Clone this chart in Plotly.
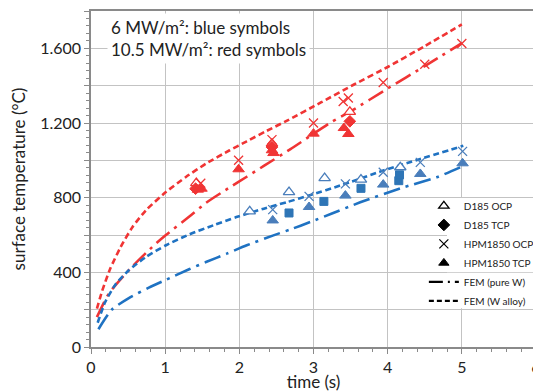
import plotly.graph_objects as go

# ---------------- data ----------------
# 10.5 MW/m2 (red symbols)
red_d185_ocp_t = [1.42, 2.44, 3.49]
red_d185_ocp_T = [878, 1089, 1260]
red_d185_tcp_t = [1.41, 2.44, 3.49]
red_d185_tcp_T = [848, 1071, 1209]
red_hpm_ocp_t = [1.48, 1.99, 2.44, 3.00, 3.40, 3.47, 3.94, 4.50, 5.00]
red_hpm_ocp_T = [877, 1000, 1111, 1200, 1315, 1334, 1417, 1515, 1626]
red_hpm_tcp_t = [1.44, 1.49, 1.99, 2.44, 2.46, 3.00, 3.41, 3.47]
red_hpm_tcp_T = [843, 848, 952, 1054, 1039, 1143, 1173, 1141]

# 6 MW/m2 (blue symbols)
blue_d185_ocp_t = [2.14, 2.67, 3.15, 3.64, 4.17]
blue_d185_ocp_T = [727, 830, 905, 897, 963]
blue_d185_tcp_t = [2.67, 3.14, 3.64, 4.15, 4.16]
blue_d185_tcp_T = [718, 780, 850, 891, 922]
blue_hpm_ocp_t = [2.45, 2.94, 3.43, 3.94, 4.44, 5.01]
blue_hpm_ocp_T = [736, 807, 874, 936, 989, 1048]
blue_hpm_tcp_t = [2.45, 2.94, 3.43, 3.94, 4.44, 5.01]
blue_hpm_tcp_T = [678, 750, 811, 870, 927, 984]

# FEM curves
fem_red_alloy_t = [0.08, 0.15, 0.26, 0.40, 0.56, 0.74, 1.01, 1.28, 1.55, 1.87, 2.10, 2.37, 2.65, 3.10, 3.54, 4.00, 4.50, 5.00]
fem_red_alloy_T = [205, 300, 420, 536, 643, 732, 830, 911, 982, 1054, 1102, 1158, 1214, 1310, 1405, 1500, 1612, 1728]
fem_red_pure_t = [0.08, 0.24, 0.53, 0.85, 1.01, 1.33, 1.55, 1.87, 2.10, 2.33, 2.69, 3.24, 3.50, 4.00, 4.50, 5.00]
fem_red_pure_T = [160, 286, 420, 545, 600, 700, 772, 855, 912, 970, 1060, 1205, 1262, 1385, 1505, 1628]
fem_blue_alloy_t = [0.09, 0.19, 0.33, 0.51, 0.74, 1.01, 1.33, 1.65, 1.96, 2.33, 2.65, 2.96, 3.36, 3.94, 4.44, 5.02]
fem_blue_alloy_T = [130, 240, 335, 411, 482, 545, 604, 652, 696, 741, 777, 814, 865, 945, 1007, 1078]
fem_blue_pure_t = [0.10, 0.28, 0.51, 0.78, 1.01, 1.33, 1.55, 1.83, 2.10, 2.46, 2.69, 2.96, 3.24, 3.63, 4.17, 4.66, 4.98]
fem_blue_pure_T = [95, 200, 262, 318, 360, 418, 455, 500, 545, 598, 630, 670, 714, 775, 850, 909, 963]

y_tickvals = [0, 200, 400, 600, 800, 1000, 1200, 1400, 1600, 1800]
y_ticktext = ["0", "", "400", "", "800", "", "1.200", "", "1.600", ""]
x_tickvals = [0, 1, 2, 3, 4, 5, 6]
x_ticktext = ["0", "1", "2", "3", "4", "5", "6"]

legend_marker_names = ["D185 OCP", "D185 TCP", "HPM1850 OCP", "HPM1850 TCP"]
legend_line_names = ["FEM (pure W)", "FEM (W alloy)"]

# ---------------- styles ----------------
FONT = "Lato"
RED = "#F03434"
BLUE_LINE = "#1F72C2"
BLUE_MK = "#4A7EBB"
BLUE_SQ = "#2E75B6"

fig = go.Figure()

def curve(t, T, color, dash):
    fig.add_trace(go.Scatter(x=t, y=T, mode="lines", showlegend=False,
                             line=dict(color=color, width=2.6, dash=dash, shape="spline", smoothing=0.6),
                             hoverinfo="skip"))

DASH = "6px,3.5px"
DASHDOT = "17px,6px,3px,6px"
curve(fem_red_alloy_t, fem_red_alloy_T, RED, DASH)
curve(fem_red_pure_t, fem_red_pure_T, RED, DASHDOT)
curve(fem_blue_alloy_t, fem_blue_alloy_T, BLUE_LINE, DASH)
curve(fem_blue_pure_t, fem_blue_pure_T, BLUE_LINE, DASHDOT)

def pts(t, T, symbol, color, fill, size, lw=1.3):
    fig.add_trace(go.Scatter(x=t, y=T, mode="markers", showlegend=False,
                             marker=dict(symbol=symbol, size=size, color=fill,
                                         line=dict(color=color, width=lw))))

# blue
pts(blue_d185_ocp_t, blue_d185_ocp_T, "triangle-up", BLUE_MK, "white", 10)
pts(blue_d185_tcp_t, blue_d185_tcp_T, "square", BLUE_SQ, BLUE_SQ, 8, 1)
pts(blue_hpm_ocp_t, blue_hpm_ocp_T, "x-thin", BLUE_MK, BLUE_MK, 9, 1.3)
pts(blue_hpm_tcp_t, blue_hpm_tcp_T, "triangle-up", BLUE_MK, BLUE_MK, 10, 1)
# red
pts(red_d185_ocp_t, red_d185_ocp_T, "triangle-up", RED, "white", 10)
pts(red_d185_tcp_t, red_d185_tcp_T, "diamond", RED, RED, 9, 1)
pts(red_hpm_ocp_t, red_hpm_ocp_T, "x-thin", RED, RED, 9, 1.3)
pts(red_hpm_tcp_t, red_hpm_tcp_T, "triangle-up", RED, RED, 10, 1)

# legend-only entries (black)
leg_syms = [("triangle-up", "white", 1.3, 9), ("diamond", "black", 1, 9),
            ("x-thin", "black", 1.2, 9), ("triangle-up", "black", 1, 9)]
for name, (sym, fill, lw, sz) in zip(legend_marker_names, leg_syms):
    fig.add_trace(go.Scatter(x=[None], y=[None], mode="markers", name=name, legend="legend",
                             marker=dict(symbol=sym, size=sz, color=fill, line=dict(color="black", width=lw))))
for name, dash in zip(legend_line_names, ["14px,5px,2px,5px", "5px,3px"]):
    fig.add_trace(go.Scatter(x=[None], y=[None], mode="lines", name=name, legend="legend2",
                             line=dict(color="black", width=2.2, dash=dash)))

AX = "#8A8A8A"
GRID = "#C3C3C3"
fig.update_xaxes(range=[0, 6], tickmode="array", tickvals=x_tickvals, ticktext=x_ticktext,
                 automargin=False, ticklabeloverflow="allow",
                 showgrid=True, gridcolor=GRID, gridwidth=1.4, zeroline=False,
                 showline=True, linecolor=AX, linewidth=1.5, mirror=True,
                 ticks="outside", ticklen=5, tickcolor=AX, tickwidth=1,
                 minor=dict(tickmode="linear", tick0=0, dtick=0.2, ticks="outside", ticklen=3,
                            tickcolor=AX, showgrid=False),
                 tickfont=dict(family=FONT, size=16, color="#222"),
                 title=dict(text="time (s)", font=dict(family=FONT, size=17, color="#222")))
fig.update_yaxes(range=[0, 1800], tickmode="array", tickvals=y_tickvals, ticktext=y_ticktext,
                 automargin=False,
                 showgrid=True, gridcolor=GRID, gridwidth=1.4, zeroline=False,
                 showline=True, linecolor=AX, linewidth=1.5, mirror=True,
                 ticks="outside", ticklen=5, tickcolor=AX, tickwidth=1,
                 minor=dict(tickmode="linear", tick0=0, dtick=40, ticks="outside", ticklen=3,
                            tickcolor=AX, showgrid=False),
                 tickfont=dict(family=FONT, size=16, color="#222"),
                 title=dict(text="surface temperature (°C)", font=dict(family=FONT, size=17, color="#222")))

# white panel behind legends (hides gridlines there)
for y0, y1 in [(402, 798), (207, 398)]:
    fig.add_shape(type="rect", xref="x", yref="y", x0=4.80, x1=5.985, y0=y0, y1=y1,
                  fillcolor="white", line=dict(width=0), layer="between")

fig.add_annotation(xref="paper", yref="paper", x=0.0364, y=0.993, xanchor="left", yanchor="top",
                   text="6 MW/m²: blue symbols<br>10.5 MW/m²: red symbols", showarrow=False, align="left",
                   bgcolor="white", borderpad=3, font=dict(family=FONT, size=17, color="#222"))

# page body has an 8px margin: margins are set so the plot area lands where the reference has it
fig.update_layout(
    width=541, height=384,
    margin=dict(l=83, r=13, t=3, b=45, autoexpand=False),
    paper_bgcolor="white", plot_bgcolor="white",
    font=dict(family=FONT, color="#222"),
    legend=dict(x=0.748, y=0.463, xanchor="left", yanchor="top", bgcolor="rgba(0,0,0,0)",
                font=dict(family=FONT, size=10, color="#222"), itemwidth=30, tracegroupgap=0),
    legend2=dict(x=0.748, y=0.237, xanchor="left", yanchor="top", bgcolor="rgba(0,0,0,0)",
                 font=dict(family=FONT, size=10, color="#222"), itemwidth=30, tracegroupgap=0),
)

fig.write_html("out.html")
